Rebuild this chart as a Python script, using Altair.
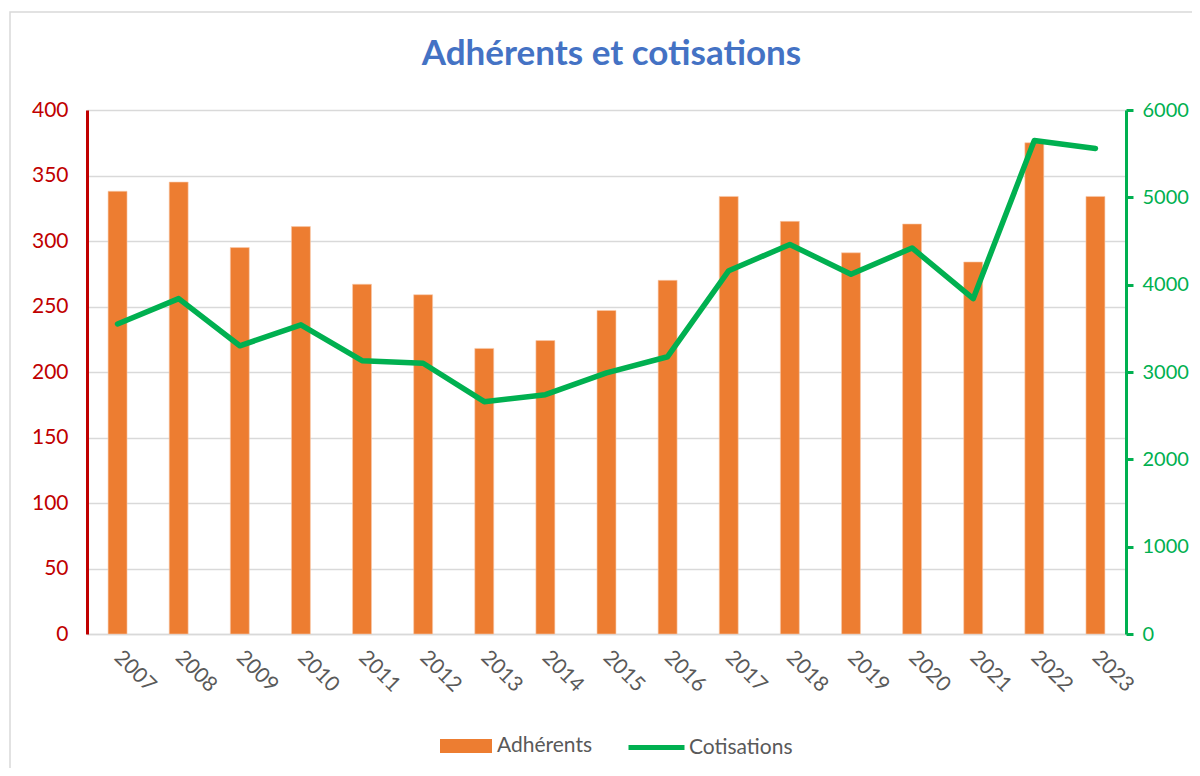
import altair as alt
import pandas as pd

years = [str(y) for y in range(2007, 2024)]
adherents = [338, 345, 295, 311, 267, 259, 218, 224, 247, 270, 334, 315, 291, 313, 284, 375, 334]
cotisations = [3550, 3840, 3300, 3540, 3130, 3100, 2660, 2740, 2990, 3175, 4160, 4460, 4120, 4420, 3840, 5650, 5560]
left_ticks = [0, 50, 100, 150, 200, 250, 300, 350, 400]
right_ticks = [0, 1000, 2000, 3000, 4000, 5000, 6000]

df = pd.DataFrame({
    "Année": years,
    "Adhérents": adherents,
    "Cotisations": cotisations,
    "s1": ["Adhérents"] * len(years),
    "s2": ["Cotisations"] * len(years),
})

FONT = "Lato"
ORANGE = "#ED7D31"
GREEN = "#00B050"
RED = "#C00000"
GRAY = "#595959"
GRID = "#D9D9D9"

x_enc = alt.X(
    "Année:N",
    sort=years,
    scale=alt.Scale(paddingInner=0.69, paddingOuter=0.345),
    axis=alt.Axis(
        title=None, ticks=False, domainColor=GRID, domainWidth=1.5,
        labelAngle=45, labelAlign="left", labelBaseline="middle",
        labelPadding=20, labelColor=GRAY, labelFont=FONT, labelFontSize=21,
        grid=False,
    ),
)

bars = alt.Chart(df).mark_bar(stroke="#F8CBAD", strokeWidth=0.6).encode(
    x=x_enc,
    y=alt.Y(
        "Adhérents:Q",
        scale=alt.Scale(domain=[0, 400], nice=False),
        axis=alt.Axis(
            title=None, values=left_ticks, ticks=False, tickSize=0,
            domainColor=RED, domainWidth=3, labelColor=RED, labelFont=FONT,
            labelFontSize=21, labelPadding=19, grid=True, gridColor=GRID,
            gridWidth=1.5,
        ),
    ),
    fill=alt.Fill(
        "s1:N",
        scale=alt.Scale(domain=["Adhérents"], range=[ORANGE]),
        legend=alt.Legend(
            title=None, orient="none", legendX=353, legendY=610,
            symbolType="M-1,-0.27H1V0.27H-1Z", symbolSize=2704,
            symbolStrokeWidth=0, labelFont=FONT, labelFontSize=21,
            labelColor=GRAY, labelOffset=5, padding=0,
        ),
    ),
)

line = alt.Chart(df).mark_line(strokeWidth=5.5, strokeCap="round", strokeJoin="round").encode(
    x=alt.X("Année:N", sort=years),
    y=alt.Y(
        "Cotisations:Q",
        scale=alt.Scale(domain=[0, 6000], nice=False),
        axis=alt.Axis(
            title=None, orient="right", values=right_ticks, format="d", grid=False,
            domainColor=GREEN, domainWidth=3, tickColor=GREEN, tickWidth=3,
            tickSize=7, labelColor=GREEN, labelFont=FONT, labelFontSize=20,
            labelPadding=9,
        ),
    ),
    stroke=alt.Stroke(
        "s2:N",
        scale=alt.Scale(domain=["Cotisations"], range=[GREEN]),
        legend=alt.Legend(
            title=None, orient="none", legendX=539, legendY=607,
            symbolType="stroke", symbolSize=3136, symbolStrokeWidth=5,
            labelFont=FONT, labelFontSize=21, labelColor=GRAY,
            labelOffset=2, padding=0,
        ),
    ),
)

frame = alt.Chart(alt.Data(values=[{"f": 1}])).mark_rect(
    fillOpacity=0, stroke=GRID, strokeWidth=1.5
).encode(
    x=alt.value(-77), x2=alt.value(1200), y=alt.value(-98), y2=alt.value(700)
)

chart = alt.layer(frame, bars, line).resolve_scale(
    y="independent", fill="independent", stroke="independent"
).properties(
    width=1039,
    height=524,
    padding={"left": 79, "top": 102, "right": 66, "bottom": 134},
    autosize=alt.AutoSizeParams(type="none"),
    title=alt.TitleParams(
        "Adhérents et cotisations", font=FONT, fontSize=35, fontWeight="bold",
        color="#4472C4", anchor="middle", frame="group", offset=-89,
        baseline="alphabetic", dx=5,
    ),
).configure_view(stroke=None).configure(background="white")

chart.save("out.html", embed_options={"renderer": "svg", "actions": False})
